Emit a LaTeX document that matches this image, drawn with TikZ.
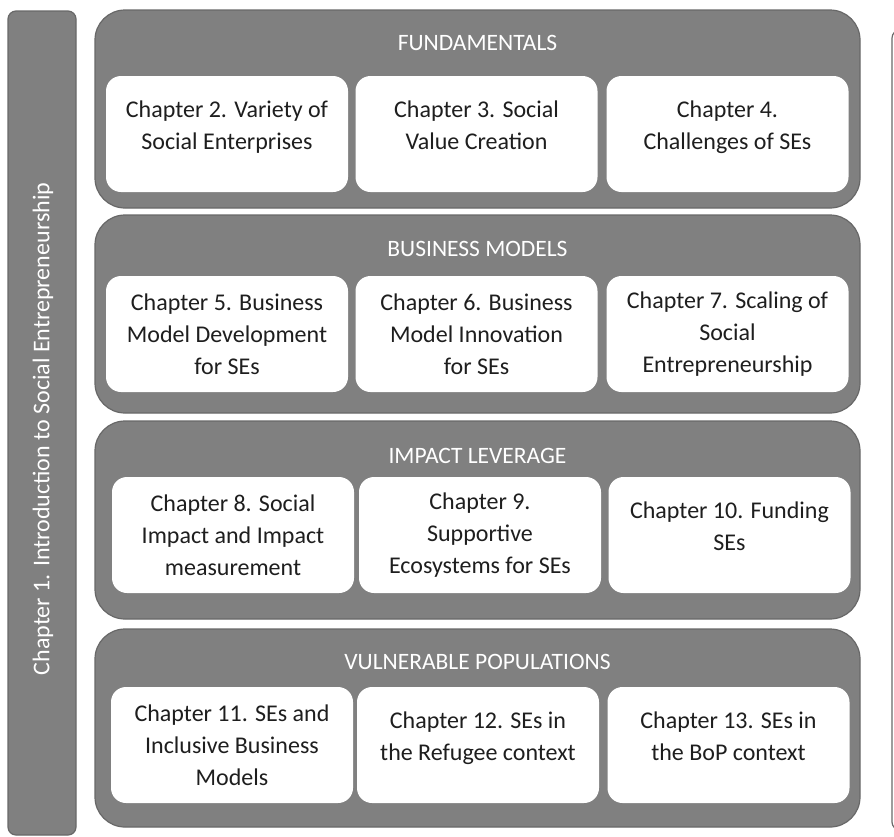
\documentclass[tikz,border=0pt]{standalone}
\usepackage{fontspec}
\setmainfont{Carlito}
\usepackage{tikz}

\definecolor{panelgray}{HTML}{808080}
\definecolor{edgegray}{HTML}{686868}
\definecolor{inkgray}{HTML}{1E1E1E}

\tikzset{
  groupbox/.style={rounded corners=30pt, fill=panelgray, draw=edgegray, line width=1.2pt,
    minimum width=765pt, minimum height=198pt},
  grouptitle/.style={text=white, font=\fontsize{23.5}{28}\selectfont},
  chapbox/.style={rounded corners=15pt, fill=white, minimum width=242pt, minimum height=116pt,
    align=center, inner sep=0pt, text=inkgray, font=\fontsize{24}{32}\selectfont},
  sidebar/.style={rounded corners=8pt, fill=panelgray, draw=edgegray, line width=1.2pt,
    minimum width=68pt, minimum height=824pt}
}

\begin{document}
\begin{tikzpicture}[x=1pt,y=-1pt]

        \useasboundingbox (0,0) rectangle (894,836);
        \clip (0,0) rectangle (894,836);

        % chapter 1 bar on the left
        \node[sidebar] (intro) at (42,423) {};
        \node[text=white, rotate=90, font=\fontsize{24}{28}\selectfont] (introt) at (43,429)
          {Chapter 1. Introduction to Social Entrepreneurship};

        % cut-off frame at the right edge
        \draw[edgegray, line width=1.2pt, rounded corners=8pt] (892,30) rectangle (950,830);

        % the four parts
        \node[groupbox] (fund)   at (477.5,109) {};
        \node[groupbox] (bmod)   at (477.5,314) {};
        \node[groupbox] (impact) at (477.5,520) {};
        \node[groupbox] (vuln)   at (477.5,728) {};

        \node[grouptitle] (fundt)   at ([yshift=-34pt]fund.north)   {FUNDAMENTALS};
        \node[grouptitle] (bmodt)   at ([yshift=-35pt]bmod.north)   {BUSINESS MODELS};
        \node[grouptitle] (impactt) at ([yshift=-36pt]impact.north) {IMPACT LEVERAGE};
        \node[grouptitle] (vulnt)   at ([yshift=-34pt]vuln.north)   {VULNERABLE POPULATIONS};

        % fundamentals
        \node[chapbox] (c2) at (227,134)   {Chapter 2. Variety of\\Social Enterprises\\[-14pt]~};
        \node[chapbox] (c3) at (476.5,134) {Chapter 3. Social\\Value Creation\\[-14pt]~};
        \node[chapbox] (c4) at (727.5,134) {Chapter 4.\\Challenges of SEs\\[-14pt]~};

        % business models
        \node[chapbox] (c5) at (227,334)   {Chapter 5. Business\\Model Development\\for SEs};
        \node[chapbox] (c6) at (476.5,334) {Chapter 6. Business\\Model Innovation\\for SEs};
        \node[chapbox] (c7) at (727.5,334) {Chapter 7. Scaling of\\Social\\Entrepreneurship};

        % impact leverage
        \node[chapbox] (c8)  at (233,535)   {Chapter 8. Social\\Impact and Impact\\measurement};
        \node[chapbox] (c9)  at (480,535)   {Chapter 9.\\Supportive\\Ecosystems for SEs};
        \node[chapbox] (c10) at (729.5,535) {Chapter 10. Funding\\SEs\\[-14pt]~};

        % vulnerable populations
        \node[chapbox] (c11) at (232,745)   {Chapter 11. SEs and\\Inclusive Business\\Models};
        \node[chapbox] (c12) at (478,745)   {Chapter 12. SEs in\\the Refugee context\\[-14pt]~};
        \node[chapbox] (c13) at (728.5,745) {Chapter 13. SEs in\\the BoP context\\[-14pt]~};

      \end{tikzpicture}
\end{document}
